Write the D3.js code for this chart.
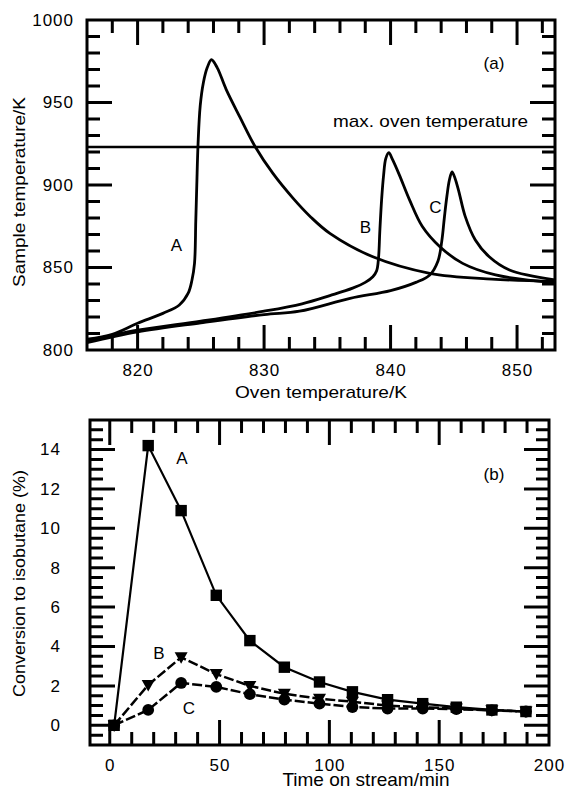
<!DOCTYPE html>
<html><head><meta charset="utf-8">
<script src="https://cdn.jsdelivr.net/npm/d3@7"></script>
<style>
html,body{margin:0;padding:0;background:#fff;}
svg{display:block;}
text{font-family:"Liberation Sans",Arial,Helvetica,sans-serif;fill:#000;}
</style></head><body>
<svg id="chart" width="565" height="789"></svg>
<script>
// ---------- Panel (a) data ----------
const ovenA   = [816, 818, 820, 822, 823.3, 824, 824.3, 824.5, 824.6, 824.68, 824.78, 824.95, 825.2, 825.5, 825.84, 826.3, 827.0, 828.1, 829.3, 830.7, 832.3, 833.7, 835.2, 838.6, 843.1, 848, 853];
const sampleA = [806.5, 809.5, 816.2, 822.2, 827.3, 834.4, 842.4, 852.5, 878, 900, 925, 948, 962, 971, 975.9, 971, 958, 941, 923.2, 907, 891.9, 880.5, 870.7, 856.5, 846.5, 843, 841.5];
const ovenB   = [816, 820, 825, 830, 833, 835.2, 837, 838, 838.6, 838.9, 839.05, 839.15, 839.3, 839.45, 839.62, 839.86, 840.15, 840.7, 841.5, 842.5, 843.9, 845.7, 848.3, 853];
const sampleB = [805.5, 812, 817.5, 823.5, 828, 833, 837.5, 841, 844.4, 848, 856, 872, 892, 906, 916, 919.6, 915.5, 906, 891, 875, 862.6, 852.5, 845.5, 840.8];
const ovenC   = [816, 820, 825, 830, 832.8, 836.8, 840, 842, 843.1, 843.75, 844.05, 844.25, 844.45, 844.65, 844.86, 845.1, 845.4, 845.9, 846.7, 847.8, 849.4, 853];
const sampleC = [804.5, 811, 816.5, 821.5, 823.5, 831.3, 836, 841, 845.5, 854, 866, 880, 893, 903, 908, 904, 896, 881, 866.7, 856.5, 848.5, 842.5];
const maxOvenTemp = 923;
const ovenTicks   = [820, 830, 840, 850];
const sampleTicks = [800, 850, 900, 950, 1000];

// ---------- Panel (b) data ----------
const timeOnStream = [2, 17.5, 32.5, 48.5, 63.8, 79.5, 95.5, 110.5, 126.5, 142.5, 157.8, 174, 189.5];
const convA = [0, 14.2, 10.9, 6.6, 4.3, 2.95, 2.2, 1.7, 1.3, 1.1, 0.92, 0.78, 0.7];
const convB = [0, 2.05, 3.45, 2.6, 2.0, 1.6, 1.35, 1.2, 1.0, 0.92, 0.85, 0.77, 0.7];
const convC = [0, 0.78, 2.15, 1.95, 1.58, 1.3, 1.1, 0.93, 0.85, 0.85, 0.82, 0.76, 0.7];
const timeTicks = [0, 50, 100, 150, 200];
const convTicks = [0, 2, 4, 6, 8, 10, 12, 14];

const svg = d3.select("#chart");
const FONT = 17;

// frame + inward tick marks on all four sides, as one path
function drawFrame(x, y, xMajor, xMinor, yMajor, yMinor) {
  const r = x.range(), s = y.range();
  const x0 = r[0], x1 = r[1], yB = s[0], yT = s[1];
  let p = `M${x0},${yT}H${x1}V${yB}H${x0}Z`;
  const add = (vals, len) => vals.forEach(v => {
    const px = x(v);
    p += `M${px},${yB}V${yB - len}M${px},${yT}V${yT + len}`;
  });
  const addY = (vals, len) => vals.forEach(v => {
    const py = y(v);
    p += `M${x0},${py}H${x0 + len}M${x1},${py}H${x1 - len}`;
  });
  add(xMajor, 25); add(xMinor, 13); addY(yMajor, 25); addY(yMinor, 13);
  svg.append("path").attr("d", p).attr("fill", "none").attr("stroke", "#000")
    .attr("stroke-width", 3).attr("stroke-linejoin", "miter");
}

function drawLabels(x, y, xMajor, yMajor, xPad, yPad) {
  const r = x.range(), s = y.range();
  const style = sel => {
    sel.select(".domain").remove();
    sel.selectAll("line").remove();
    sel.selectAll("text").attr("font-size", FONT).attr("letter-spacing", 1).attr("fill", "#000");
  };
  svg.append("g").attr("transform", `translate(0,${s[0]})`)
    .call(d3.axisBottom(x).tickValues(xMajor).tickSize(0).tickPadding(xPad).tickFormat(d3.format("d"))).call(style);
  svg.append("g").attr("transform", `translate(${r[0]},0)`)
    .call(d3.axisLeft(y).tickValues(yMajor).tickSize(0).tickPadding(yPad).tickFormat(d3.format("d"))).call(style);
}

function label(txt, x, y, opts = {}) {
  const t = svg.append("text").attr("x", x).attr("y", y).attr("text-anchor", "middle")
    .attr("font-size", opts.size || FONT).text(txt);
  if (opts.len) t.attr("textLength", opts.len).attr("lengthAdjust", "spacingAndGlyphs");
  if (opts.rotate) t.attr("x", 0).attr("y", 0).attr("transform", `translate(${x},${y}) rotate(-90)`);
  return t;
}

// ================= Panel (a) =================
const xa = d3.scaleLinear().domain([816, 853]).range([87, 555]);
const ya = d3.scaleLinear().domain([800, 1000]).range([350, 20]);
const ovenMinor = d3.range(818, 853, 2).filter(v => v % 10 !== 0);
const sampleMinor = d3.range(810, 1000, 10).filter(v => v % 50 !== 0);

const defs = svg.append("defs");
defs.append("clipPath").attr("id", "clipa").append("rect")
  .attr("x", 87).attr("y", 20).attr("width", 468).attr("height", 330);

const lineA = d3.line().x(d => xa(d[0])).y(d => ya(d[1])).curve(d3.curveCatmullRom.alpha(0.5));
const gA = svg.append("g").attr("clip-path", "url(#clipa)");
[[ovenA, sampleA], [ovenB, sampleB], [ovenC, sampleC]].forEach(([ox, sy]) => {
  gA.append("path").datum(ox.map((v, i) => [v, sy[i]]))
    .attr("d", lineA).attr("fill", "none").attr("stroke", "#000").attr("stroke-width", 2.8)
    .attr("stroke-linejoin", "round");
});
gA.append("line").attr("x1", xa(816)).attr("x2", xa(853))
  .attr("y1", ya(maxOvenTemp)).attr("y2", ya(maxOvenTemp))
  .attr("stroke", "#000").attr("stroke-width", 2.5);

drawFrame(xa, ya, ovenTicks, ovenMinor, sampleTicks, sampleMinor);
drawLabels(xa, ya, ovenTicks, sampleTicks, 14, 13);

label("A", 176.5, 251);
label("B", 365.5, 233);
label("C", 435.5, 213);
label("(a)", 494, 69);
label("max. oven temperature", 430.5, 127, {len: 195});
label("Oven temperature/K", 321, 398, {len: 172});
label("Sample temperature/K", 25, 192, {len: 190, rotate: true});

// ================= Panel (b) =================
const xb = d3.scaleLinear().domain([-9, 200]).range([90, 549]);
const yb = d3.scaleLinear().domain([-1, 15.5]).range([745, 420]);
const timeMinor = d3.range(10, 200, 10).filter(v => v % 50 !== 0);
const convMinor = d3.range(-0.5, 15.5, 0.5).filter(v => !(Number.isInteger(v) && v % 2 === 0 && v >= 0 && v <= 14));

drawFrame(xb, yb, timeTicks, timeMinor, convTicks, convMinor);
drawLabels(xb, yb, timeTicks, convTicks, 14, 29);

const lineB = d3.line().x(d => xb(d[0])).y(d => yb(d[1]));
const seriesB = [
  {vals: convC, dash: "10,3", width: 2.5, shape: "circle"},
  {vals: convB, dash: "10,3", width: 2.5, shape: "tri"},
  {vals: convA, dash: null, width: 2.2, shape: "square"}
];
seriesB.forEach(s => {
  const pts = timeOnStream.map((t, i) => [t, s.vals[i]]);
  const p = svg.append("path").datum(pts).attr("d", lineB).attr("fill", "none")
    .attr("stroke", "#000").attr("stroke-width", s.width);
  if (s.dash) p.attr("stroke-dasharray", s.dash);
});
seriesB.forEach(s => {
  const pts = timeOnStream.map((t, i) => [t, s.vals[i]]);
  const g = svg.append("g");
  if (s.shape === "circle") {
    g.selectAll("circle").data(pts).join("circle")
      .attr("cx", d => xb(d[0])).attr("cy", d => yb(d[1])).attr("r", 5.9).attr("fill", "#000");
  } else if (s.shape === "square") {
    g.selectAll("rect").data(pts).join("rect")
      .attr("x", d => xb(d[0]) - 5.7).attr("y", d => yb(d[1]) - 5.7)
      .attr("width", 11.4).attr("height", 11.4).attr("fill", "#000");
  } else {
    g.selectAll("path").data(pts).join("path")
      .attr("d", d => { const cx = xb(d[0]), cy = yb(d[1]);
        return `M${cx - 6.5},${cy - 5}L${cx + 6.5},${cy - 5}L${cx},${cy + 6.5}Z`; })
      .attr("fill", "#000");
  }
});

label("A", 182, 464);
label("B", 159, 659);
label("C", 189, 714);
label("(b)", 494, 480);
label("Time on stream/min", 366, 786, {size: 19});
label("Conversion to isobutane (%)", 25, 583.5, {len: 227, rotate: true});
</script>
</body></html>
